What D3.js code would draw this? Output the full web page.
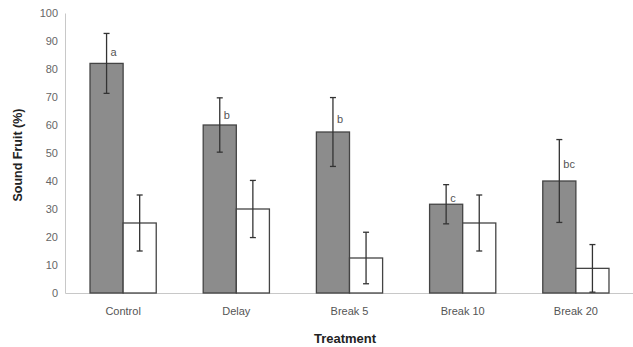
<!DOCTYPE html>
<html>
<head>
<meta charset="utf-8">
<script src="https://cdn.jsdelivr.net/npm/d3@7"></script>
<style>
  html, body { margin: 0; padding: 0; background: #fff; }
  svg { display: block; }
</style>
</head>
<body>
<svg id="chart" width="633" height="347"></svg>
<script>
const categories = ['Control', 'Delay', 'Break 5', 'Break 10', 'Break 20'];
const grayValues = [82, 60, 57.5, 31.7, 40];
const grayErrors = [10.7, 9.7, 12.3, 7, 14.8];
const whiteValues = [25, 30, 12.5, 25, 8.8];
const whiteErrors = [10, 10.2, 9.2, 10, 8.5];
const letters = ['a', 'b', 'b', 'c', 'bc'];
const yTicks = [0, 10, 20, 30, 40, 50, 60, 70, 80, 90, 100];

const svg = d3.select('#chart');
const margin = { top: 13, right: 0, bottom: 54, left: 65 };
const width = 569;
const height = 347 - margin.top - margin.bottom;

const g = svg.append('g')
    .attr('transform', `translate(${margin.left},${margin.top})`);

const x = d3.scaleBand()
    .domain(categories)
    .range([0, width])
    .paddingInner(0.415)
    .paddingOuter(0.221);

const sub = d3.scaleBand()
    .domain(['gray', 'white'])
    .range([0, x.bandwidth()]);

const y = d3.scaleLinear()
    .domain([0, 100])
    .range([height, 0]);

// Axes
const yAxis = g.append('g')
    .call(d3.axisLeft(y).tickValues(yTicks).tickSize(0).tickPadding(7));
yAxis.select('.domain').attr('stroke', '#c8c8c8');
yAxis.selectAll('text')
    .style('fill', '#666')
    .style('font-family', 'Liberation Sans, Arial, sans-serif')
    .style('font-size', '11px');

const xAxis = g.append('g')
    .attr('transform', `translate(0,${height})`)
    .call(d3.axisBottom(x).tickSize(0).tickPadding(14));
xAxis.select('.domain').attr('stroke', '#c8c8c8');
xAxis.selectAll('text')
    .style('fill', '#555')
    .style('font-family', 'Liberation Sans, Arial, sans-serif')
    .style('font-size', '11px');

// Bars
const series = [
    { key: 'gray', values: grayValues, errors: grayErrors, fill: '#8c8c8c' },
    { key: 'white', values: whiteValues, errors: whiteErrors, fill: '#ffffff' }
];

series.forEach(s => {
    const grp = g.append('g');
    grp.selectAll('rect')
        .data(categories)
        .enter()
        .append('rect')
        .attr('x', (d) => x(d) + sub(s.key))
        .attr('y', (d, i) => y(s.values[i]))
        .attr('width', sub.bandwidth())
        .attr('height', (d, i) => height - y(s.values[i]))
        .attr('fill', s.fill)
        .attr('stroke', '#444')
        .attr('stroke-width', 1.3);

    // Error bars
    const eb = grp.selectAll('.err')
        .data(categories)
        .enter()
        .append('g')
        .attr('class', 'err')
        .attr('stroke', '#333')
        .attr('stroke-width', 1.3);
    const cx = d => x(d) + sub(s.key) + sub.bandwidth() / 2;
    eb.append('line')
        .attr('x1', cx).attr('x2', cx)
        .attr('y1', (d, i) => y(s.values[i] + s.errors[i]))
        .attr('y2', (d, i) => y(Math.max(0, s.values[i] - s.errors[i])));
    eb.append('line')
        .attr('x1', d => cx(d) - 3).attr('x2', d => cx(d) + 3)
        .attr('y1', (d, i) => y(s.values[i] + s.errors[i]))
        .attr('y2', (d, i) => y(s.values[i] + s.errors[i]));
    eb.append('line')
        .attr('x1', d => cx(d) - 3).attr('x2', d => cx(d) + 3)
        .attr('y1', (d, i) => y(Math.max(0, s.values[i] - s.errors[i])))
        .attr('y2', (d, i) => y(Math.max(0, s.values[i] - s.errors[i])));
});

// Significance letters
g.selectAll('.letter')
    .data(categories)
    .enter()
    .append('text')
    .attr('class', 'letter')
    .attr('x', d => x(d) + sub('gray') + sub.bandwidth() / 2 + 4)
    .attr('y', (d, i) => (y(grayValues[i]) + y(grayValues[i] + grayErrors[i])) / 2 + 4)
    .attr('dy', '0.35em')
    .style('fill', '#555')
    .style('font-family', 'Liberation Sans, Arial, sans-serif')
    .style('font-size', '11px')
    .text((d, i) => letters[i]);

// Axis labels
g.append('text')
    .attr('transform', 'rotate(-90)')
    .attr('x', -142)
    .attr('y', -43)
    .style('text-anchor', 'middle')
    .style('fill', '#222')
    .style('font-family', 'Liberation Sans, Arial, sans-serif')
    .style('font-size', '12.5px')
    .style('font-weight', 'bold')
    .text('Sound Fruit (%)');

g.append('text')
    .attr('x', 280)
    .attr('y', height + 50)
    .style('text-anchor', 'middle')
    .style('fill', '#222')
    .style('font-family', 'Liberation Sans, Arial, sans-serif')
    .style('font-size', '13px')
    .style('font-weight', 'bold')
    .text('Treatment');
</script>
</body>
</html>
